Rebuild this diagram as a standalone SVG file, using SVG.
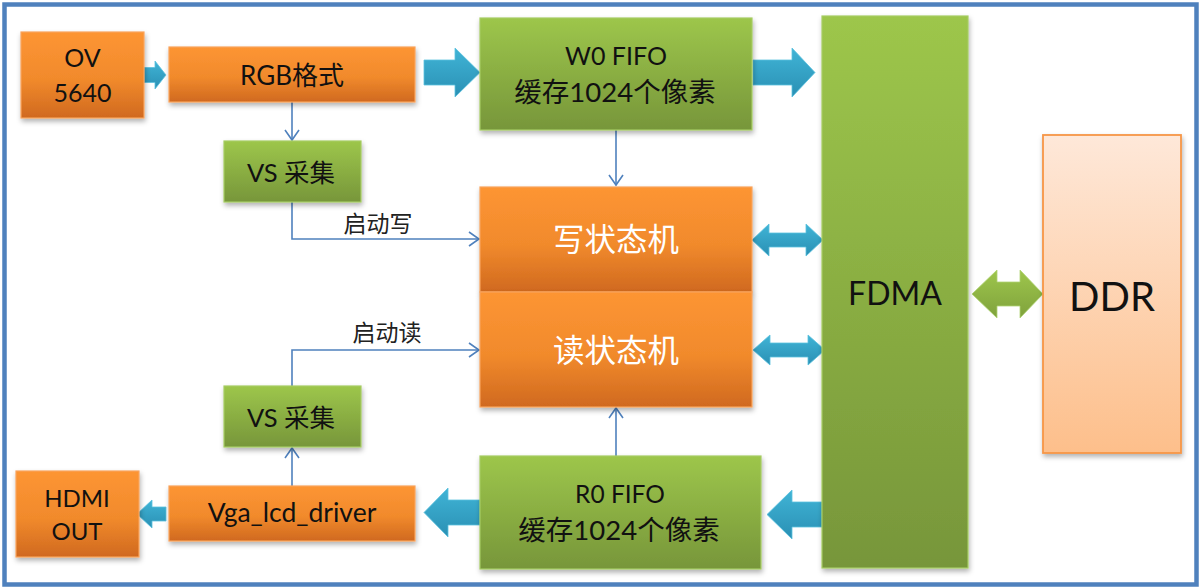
<svg xmlns="http://www.w3.org/2000/svg" width="1204" height="588" viewBox="0 0 1204 588">
<defs>
<linearGradient id="gOr" x1="0" y1="0" x2="0" y2="1"><stop offset="0" stop-color="#fd9533"/><stop offset="0.55" stop-color="#f18a2c"/><stop offset="1" stop-color="#d0691f"/></linearGradient>
<linearGradient id="gGr" x1="0" y1="0" x2="0" y2="1"><stop offset="0" stop-color="#9dc64b"/><stop offset="1" stop-color="#77963a"/></linearGradient>
<linearGradient id="gDdr" x1="0" y1="0" x2="0" y2="1"><stop offset="0" stop-color="#fee8d9"/><stop offset="1" stop-color="#fdbf8b"/></linearGradient>
<linearGradient id="gBl" x1="0" y1="0" x2="0" y2="1"><stop offset="0" stop-color="#40b4d6"/><stop offset="1" stop-color="#2a90b4"/></linearGradient>
<linearGradient id="gGa" x1="0" y1="0" x2="0" y2="1"><stop offset="0" stop-color="#9ec64c"/><stop offset="1" stop-color="#7fa23c"/></linearGradient>
<filter id="sh" x="-10%" y="-10%" width="125%" height="130%"><feDropShadow dx="1" dy="3" stdDeviation="2.5" flood-color="#000" flood-opacity="0.3"/></filter>
<marker id="open" markerUnits="userSpaceOnUse" markerWidth="20" markerHeight="20" viewBox="-12 -10 14 20" refX="0" refY="0" orient="auto"><path d="M-10,-7 L0,0 L-10,7" fill="none" stroke="#4f81bd" stroke-width="1.6"/></marker>
</defs>
<style>
.or{fill:url(#gOr);stroke:#f9a35c;stroke-width:1.2;filter:url(#sh)}
.gr{fill:url(#gGr);stroke:#a6cc63;stroke-width:1.2;filter:url(#sh)}
.ddr{fill:url(#gDdr);stroke:#f79646;stroke-width:1.8;filter:url(#sh)}
.ba{fill:url(#gBl);stroke:#5cc2de;stroke-width:0.8}
.ga{fill:url(#gGa);stroke:#b0d373;stroke-width:0.8}
.ln{fill:none;stroke:#4f81bd;stroke-width:1.6;marker-end:url(#open)}
text{font-family:Lato,"Noto Sans CJK SC",sans-serif;text-anchor:middle;fill:#111}
.w{fill:#fff}
.lab{font-size:23px;fill:#222}
.cn{font-size:27.5px}
</style>
<rect x="0" y="0" width="1204" height="588" fill="#fff"/>
<rect x="4.5" y="4.5" width="1192" height="580" fill="#fff" stroke="#4f81bd" stroke-width="4.5"/>

<g id="connectors">
<path class="ba" d="M144,67.5 H155 V61 L166,75 L155,89 V82.5 H144 Z"/>
<path class="ba" d="M424,60 H455 V48 L480,72.5 L455,97 V85 H424 Z"/>
<path class="ba" d="M753,60 H792 V48 L815,72.5 L792,97 V85 H753 Z"/>
<path class="ba" d="M822,502 H792 V490 L767,514.5 L792,539 V527 H822 Z"/>
<path class="ba" d="M480,500 H448 V488 L424,512.5 L448,537 V525 H480 Z"/>
<path class="ba" d="M166,507 H152 V500 L137,514 L152,528 V521 H166 Z"/>
<path class="ba" d="M752,240 L769,224 V233 H806 V224 L823,240 L806,256 V247 H769 V256 Z"/>
<path class="ba" d="M753,350 L770,335 V343 H808 V335 L825,350 L808,365 V357 H770 V365 Z"/>
<path class="ga" d="M972,294 L997,270 V282 H1020 V270 L1043,294 L1020,318 V306 H997 V318 Z"/>
<path class="ln" d="M292,102 V140"/>
<path class="ln" d="M616,130 V185"/>
<path class="ln" d="M292,202 V239 H479"/>
<path class="ln" d="M292,386 V350 H479"/>
<path class="ln" d="M292,486 V448"/>
<path class="ln" d="M616,456 V408"/>
<text class="lab" x="378" y="232">启动写</text>
<text class="lab" x="387" y="341">启动读</text>
</g>

<g id="ov5640"><rect class="or" x="21" y="32" width="123" height="86"/><text x="82.5" y="67" font-size="25">OV</text><text x="82.5" y="102" font-size="25">5640</text></g>
<g id="rgb"><rect class="or" x="169" y="47" width="246" height="55"/><text x="292" y="85" font-size="26">RGB格式</text></g>
<g id="vs1"><rect class="gr" x="224" y="141" width="137" height="61"/><text x="291" y="182" font-size="25.5">VS 采集</text></g>
<g id="w0fifo"><rect class="gr" x="480" y="18" width="272" height="112"/><text x="616" y="65" font-size="25">W0 FIFO</text><text class="cn" x="615" y="102">缓存1024个像素</text></g>
<g id="wsm"><rect class="or" x="480" y="187" width="272" height="105"/><text class="w" x="616" y="251" font-size="31.5">写状态机</text></g>
<g id="rsm"><rect class="or" x="480" y="292" width="272" height="115"/><text class="w" x="616" y="362" font-size="31.5">读状态机</text></g>
<g id="fdma"><rect class="gr" x="822" y="16" width="146" height="552"/><text x="895" y="305" font-size="32">FDMA</text></g>
<g id="ddr"><rect class="ddr" x="1043" y="135" width="138" height="318"/><text x="1112" y="311" font-size="40">DDR</text></g>
<g id="vs2"><rect class="gr" x="224" y="386" width="137" height="61"/><text x="291" y="427" font-size="25.5">VS 采集</text></g>
<g id="r0fifo"><rect class="gr" x="480" y="456" width="281" height="113"/><text x="620" y="503" font-size="24.5">R0 FIFO</text><text class="cn" x="619" y="540">缓存1024个像素</text></g>
<g id="vga"><rect class="or" x="169" y="486" width="246" height="55"/><text x="292" y="522" font-size="26.5">Vga_lcd_driver</text></g>
<g id="hdmi"><rect class="or" x="16" y="471" width="123" height="86"/><text x="77" y="507" font-size="24">HDMI</text><text x="77" y="540" font-size="24">OUT</text></g>
</svg>
